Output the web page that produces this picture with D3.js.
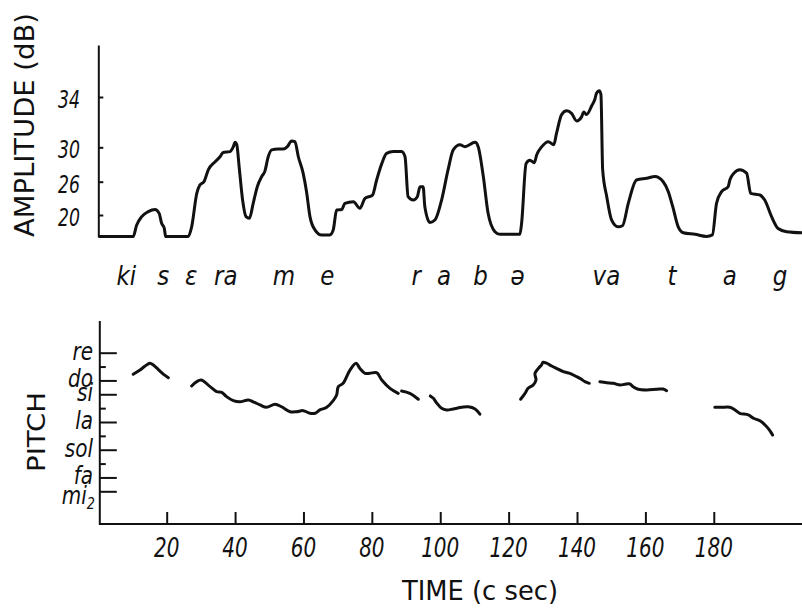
<!DOCTYPE html>
<html>
<head>
<meta charset="utf-8">
<script src="https://cdn.jsdelivr.net/npm/d3@7"></script>
<style>
  body { margin: 0; background: #fff; }
  svg { display: block; }
</style>
</head>
<body>
<script>
// ---- data ----------------------------------------------------------
// time in centiseconds
const timeTicks = [20, 40, 60, 80, 100, 120, 140, 160, 180];
// amplitude axis ticks (dB)
const ampTicks = [20, 26, 30, 34];
// amplitude envelope: [time (csec), amplitude (dB)]
const amplitude = [
  [0,16],[10.2,16],[11.2,18.1],[12.7,19.7],[14.6,20.6],[16.6,21.0],[17.8,20.3],[18.5,18.5],[19.3,17.5],[19.7,16],
  [26.3,16],[27.3,17.8],[28.8,23.9],[29.7,25.4],[30.9,26],[32.2,27.4],[34.1,28.3],[35.6,28.9],[36.5,29.4],[38.5,29.5],
  [39.5,30.05],[40.0,30.4],[40.5,30.2],[41.2,27.7],[42.2,22.7],[43.2,19.7],[44.2,19.4],[45.3,22.1],[46.5,25.1],[47.8,26.6],
  [48.7,27.2],[49.7,28.9],[50.7,29.7],[52.6,29.8],[54.1,29.8],[55.3,30.05],[56.5,30.5],[57.5,30.45],[58.5,28.9],[59.9,27.0],
  [60.9,24.2],[61.9,19.7],[63.4,17.2],[65.3,16.3],[67.7,16.3],[68.7,17.2],[69.7,20.9],[71.2,21.0],[72.1,22.1],[74.6,22.4],
  [76.5,21.2],[78.0,23.0],[80.2,23.6],[81.4,26.2],[82.9,28.1],[84.3,29.3],[86.3,29.5],[88.7,29.5],[89.7,28.9],[90.6,23.3],
  [92.1,22.7],[93.3,23.3],[94.1,25.1],[95.0,25.1],[95.5,21.5],[97.0,18.6],[98.5,19.1],[100.4,22.7],[102.3,27.4],[103.8,29.7],
  [105.8,30.2],[107.2,30.05],[110.2,30.4],[111.1,30.05],[112.6,26.6],[114.0,20.3],[116.0,16.9],[117.5,16.4],[123.3,16.4],[123.8,18.5],
  [125.1,28.1],[126.2,28.5],[127.5,28.2],[128.2,29.1],[129.7,30.05],[131.6,30.45],[133.2,30.2],[134.0,31.1],[135.5,32.6],[137.0,32.9],
  [138.4,32.7],[139.9,32.1],[141.3,32.4],[142.0,32.8],[142.8,32.6],[144.3,33.3],[145.2,33.8],[145.7,34.3],[146.5,34.5],[147.0,34.2],
  [147.5,27.4],[148.7,23.3],[150.1,19.1],[152.0,17.8],[153.3,18.0],[155.0,22.1],[157.4,26.2],[160.4,26.4],[162.8,26.6],[165.2,26.0],
  [166.7,24.2],[168.0,21.5],[169.6,17.8],[171.1,16.7],[174.5,16.4],[177.9,16],[179.6,16.3],[180.8,22.1],[182.3,24.2],[184.2,25.1],
  [184.7,26.2],[185.9,27.0],[187.6,27.4],[189.6,27.0],[190.8,23.9],[193.5,23.6],[194.9,22.7],[196.9,19.7],[198.8,17.5],[201.3,16.9],
  [205.8,16.7]
];

// pitch scale: semitone steps above mi
const noteNames = ["mi", "fa", "sol", "la", "si", "do", "re"];
const noteSteps = [0, 1, 3, 5, 7, 8, 10];
const sharpSteps = [2, 4, 6, 9];

// voiced pitch contour pieces: [time (csec), semitones above mi]
const pitchKi = [[10.2,8.44],[12.2,8.75],[13.7,9.04],[15.1,9.24],[16.1,9.11],[17.5,8.80],[19.0,8.46],[20.5,8.20]];
const pitchErame = [[27.3,7.60],[30.0,8.03],[32.7,7.55],[34.6,7.19],[36.1,7.14],[37.5,6.83],[39.5,6.54],[41.4,6.46],
  [43.9,6.59],[45.3,6.46],[47.3,6.23],[49.2,6.06],[51.7,6.28],[53.6,6.10],[56.1,5.74],[58.0,5.74],[59.9,5.82],[61.9,5.63],
  [63.4,5.63],[64.8,5.87],[66.8,6.06],[68.7,6.54],[69.7,6.95],[70.2,7.55],[71.6,7.79],[73.6,8.75],[75.4,9.24],[76.5,8.87],
  [78.0,8.51],[79.4,8.51],[81.4,8.56],[82.9,8.03],[85.3,7.43],[87.7,7.07]];
const pitchRa = [[88.7,7.24],[91.1,7.07],[93.6,6.64]];
const pitchBa = [[97.1,6.88],[98.0,6.71],[98.9,6.39],[100.4,5.99],[101.9,5.87],[103.8,5.94],[106.3,6.06],[108.2,6.10],[110.2,5.94],[111.6,5.56]];
const pitchVa = [[123.5,6.64],[124.8,7.07],[125.7,7.43],[127.2,7.67],[128.0,8.03],[127.7,8.51],[128.7,8.87],[129.6,9.11],
  [130.1,9.31],[131.1,9.24],[132.6,9.04],[134.0,8.87],[136.0,8.63],[137.9,8.51],[139.9,8.27],[141.3,8.08],[142.3,7.91],[143.6,7.79]];
const pitchTa = [[146.7,7.91],[148.7,7.84],[150.6,7.79],[152.6,7.67],[154.0,7.72],[155.5,7.74],[156.4,7.55],[157.9,7.36],
  [160.4,7.31],[163.3,7.36],[165.2,7.38],[166.2,7.26]];
const pitchAg = [[180.3,6.06],[182.3,6.06],[184.7,6.06],[186.2,5.87],[187.6,5.63],[190.1,5.51],[191.6,5.27],[193.5,5.09],
  [195.0,4.78],[196.5,4.35],[197.2,4.06]];
const pitchPieces = [pitchKi, pitchErame, pitchRa, pitchBa, pitchVa, pitchTa, pitchAg];

// phonetic transcription placed at segment times (csec)
const phonemes = ["ki", "s", "ɛ", "ra", "m", "e", "r", "a", "b", "ə", "va", "t", "a", "g"];
const phonemeTimes = [8.2, 19.0, 27.2, 37.3, 54.3, 67.0, 93.0, 101.1, 111.8, 122.6, 148.6, 167.8, 184.7, 199.4];

// ---- layout --------------------------------------------------------
const W = 802, H = 608;
const ink = "#111";
const svg = d3.select("body").append("svg").attr("width", W).attr("height", H);

const x = d3.scaleLinear().domain([0, 205.8]).range([98.3, 802]);
// the amplitude axis is drawn with unequal spacing between its marked levels
const yAmp = d3.scaleLinear().domain([16, 20, 26, 30, 34, 38.1]).range([236.5, 215, 181.7, 147.3, 97, 45]);
const yPitch = d3.scaleLinear().domain([0, 10]).range([491.3, 352.7]);
const xAxisY = 524;

const italic = "'DejaVu Sans', sans-serif";

function slanted(g, px, py, str, size, sx, anchor) {
  return g.append("text")
    .attr("transform", `translate(${px},${py}) scale(${sx},1)`)
    .attr("text-anchor", anchor)
    .style("font-family", italic)
    .style("font-style", "italic")
    .style("font-size", size + "px")
    .attr("fill", ink)
    .text(str);
}

// ---- amplitude panel ----------------------------------------------
const ampPanel = svg.append("g");
const ampAxis = ampPanel.append("g")
  .attr("transform", `translate(${x(0)},0)`)
  .call(d3.axisRight(yAmp).tickValues(ampTicks).tickSize(5).tickSizeOuter(0).tickFormat(""));
ampAxis.selectAll("path, line").attr("stroke", ink).attr("stroke-width", 2);

ampTicks.forEach(v => slanted(ampPanel, 80, yAmp(v) + 11, String(v), 24, 0.72, "end"));

ampPanel.append("text")
  .attr("transform", "translate(34,125) rotate(-90)")
  .attr("text-anchor", "middle")
  .attr("textLength", 224).attr("lengthAdjust", "spacingAndGlyphs")
  .style("font-family", "'DejaVu Sans', sans-serif")
  .style("font-size", "26px")
  .attr("fill", ink)
  .text("AMPLITUDE (dB)");

ampPanel.append("path")
  .datum(amplitude)
  .attr("fill", "none")
  .attr("stroke", ink)
  .attr("stroke-width", 3)
  .attr("stroke-linejoin", "round")
  .attr("d", d3.line().x(d => x(d[0])).y(d => yAmp(d[1])).curve(d3.curveMonotoneX));

// ---- transcription -------------------------------------------------
const words = svg.append("g");
phonemes.forEach((p, i) => slanted(words, x(phonemeTimes[i]), 285, p, 27, 0.85, "middle"));

// ---- pitch panel ---------------------------------------------------
const pitchPanel = svg.append("g");
pitchPanel.append("line")
  .attr("x1", x(0) + 1.5).attr("x2", x(0) + 1.5)
  .attr("y1", 321).attr("y2", xAxisY + 1)
  .attr("stroke", ink).attr("stroke-width", 2);

const pitchMajor = pitchPanel.append("g")
  .attr("transform", `translate(${x(0) + 1.5},0)`)
  .call(d3.axisRight(yPitch).tickValues(noteSteps).tickSize(17).tickSizeOuter(0).tickFormat(""));
pitchMajor.select(".domain").remove();
pitchMajor.selectAll("line").attr("stroke", ink).attr("stroke-width", 2);

const pitchMinor = pitchPanel.append("g")
  .attr("transform", `translate(${x(0) + 1.5},0)`)
  .call(d3.axisRight(yPitch).tickValues(sharpSteps).tickSize(6).tickSizeOuter(0).tickFormat(""));
pitchMinor.select(".domain").remove();
pitchMinor.selectAll("line").attr("stroke", ink).attr("stroke-width", 2);

noteNames.forEach((n, i) => {
  const base = yPitch(noteSteps[i]) + (n === "mi" ? 13 : 7);
  if (n === "mi") {
    const t = slanted(pitchPanel, 95, base, "", 25, 0.8, "end");
    t.append("tspan").text("mi");
    t.append("tspan").attr("dy", 5).style("font-size", "16px").text("2");
  } else {
    slanted(pitchPanel, 93, base, n, 25, 0.8, "end");
  }
});

pitchPanel.append("text")
  .attr("transform", "translate(45,432) rotate(-90)")
  .attr("text-anchor", "middle")
  .attr("textLength", 80).attr("lengthAdjust", "spacingAndGlyphs")
  .style("font-family", "'DejaVu Sans', sans-serif")
  .style("font-size", "25px")
  .attr("fill", ink)
  .text("PITCH");

const pitchLine = d3.line().x(d => x(d[0])).y(d => yPitch(d[1])).curve(d3.curveCatmullRom.alpha(0.5));
pitchPanel.selectAll("path.pitch")
  .data(pitchPieces)
  .join("path")
  .attr("class", "pitch")
  .attr("fill", "none")
  .attr("stroke", ink)
  .attr("stroke-width", 3)
  .attr("stroke-linecap", "round")
  .attr("stroke-linejoin", "round")
  .attr("d", pitchLine);

// time axis
const timeAxis = pitchPanel.append("g")
  .attr("transform", `translate(0,${xAxisY})`)
  .call(d3.axisBottom(x).tickValues(timeTicks).tickSize(-12).tickSizeOuter(0).tickFormat(""));
timeAxis.select(".domain").attr("d", `M${x(0) + 1.5},0H${W}`);
timeAxis.selectAll("path, line").attr("stroke", ink).attr("stroke-width", 2);

timeTicks.forEach(v => slanted(pitchPanel, x(v), 557, String(v), 27, 0.74, "middle"));

pitchPanel.append("text")
  .attr("x", 480).attr("y", 600)
  .attr("text-anchor", "middle")
  .attr("textLength", 156).attr("lengthAdjust", "spacingAndGlyphs")
  .style("font-family", "'DejaVu Sans', sans-serif")
  .style("font-size", "27px")
  .attr("fill", ink)
  .text("TIME (c sec)");
</script>
</body>
</html>
